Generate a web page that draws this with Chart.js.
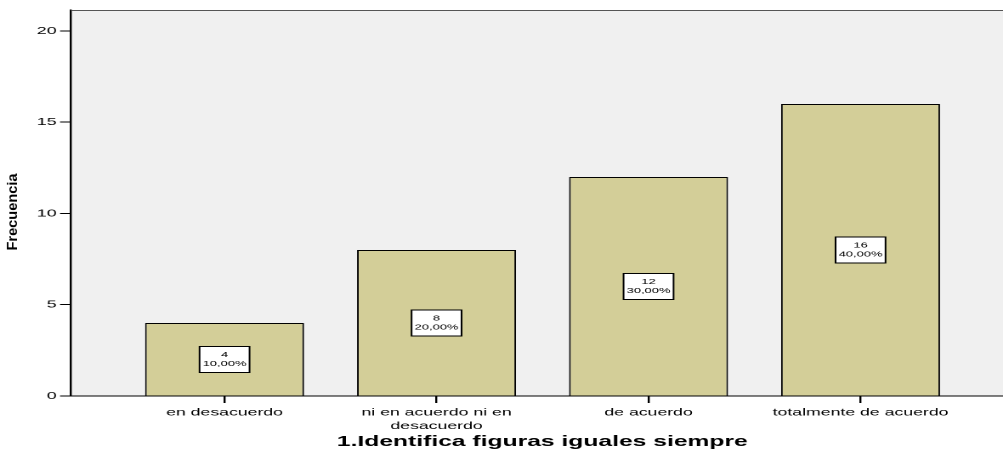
<!DOCTYPE html>
<html>
<head>
<meta charset="utf-8">
<script src="https://cdn.jsdelivr.net/npm/chart.js@4.4.1/dist/chart.umd.min.js"></script>
<style>
  html, body { margin: 0; padding: 0; background: #fff; overflow: hidden; }
  /* the original output is stretched sideways, so draw narrow and widen it */
  #wrap { position: absolute; left: 0; top: 0; width: 590px; height: 453px;
          transform: scaleX(1.7); transform-origin: 0 0; }
</style>
</head>
<body>
<div id="wrap"><canvas id="freqChart"></canvas></div>
<script>
// Chart data
const categories = ['en desacuerdo', ['ni en acuerdo ni en', 'desacuerdo'], 'de acuerdo', 'totalmente de acuerdo'];
const counts = [4, 8, 12, 16];
const percents = ['10,00%', '20,00%', '30,00%', '40,00%'];
const yTicks = [0, 5, 10, 15, 20];
const xPositions = [0, 1, 2, 3];

const FONT = '"Liberation Sans", Arial, sans-serif';

// Plot background, top frame line and axis titles
const framePlugin = {
  id: 'frame',
  beforeDraw(chart) {
    const { ctx, chartArea: { left, right, top, bottom } } = chart;
    ctx.save();
    ctx.fillStyle = '#f0f0f0';
    ctx.fillRect(left, top, right - left, bottom - top);
    ctx.restore();
  },
  afterDraw(chart) {
    const { ctx, chartArea: { left, right, top } } = chart;
    ctx.save();
    ctx.strokeStyle = '#555';
    ctx.lineWidth = 1;
    ctx.beginPath();
    ctx.moveTo(left, top + 0.5);
    ctx.lineTo(right, top + 0.5);
    ctx.stroke();

    // x title
    ctx.fillStyle = '#000';
    ctx.font = 'bold 14.5px ' + FONT;
    ctx.textAlign = 'center';
    ctx.textBaseline = 'alphabetic';
    ctx.fillText('1.Identifica figuras iguales siempre', 319, 446);

    // y title (narrow, rotated)
    ctx.translate(7.5, 212);
    ctx.scale(0.56, 1);
    ctx.rotate(-Math.PI / 2);
    ctx.font = 'bold 14.6px ' + FONT;
    ctx.textBaseline = 'middle';
    ctx.fillText('Frecuencia', 0, 0);
    ctx.restore();
  }
};

// White boxes with count and percentage in the middle of each bar
const boxLabels = {
  id: 'boxLabels',
  afterDatasetsDraw(chart) {
    const { ctx } = chart;
    const yScale = chart.scales.y;
    const w = 29.4, h = 26;
    ctx.save();
    chart.getDatasetMeta(0).data.forEach((bar, i) => {
      const cy = yScale.getPixelForValue(counts[i] / 2);
      ctx.fillStyle = '#fff';
      ctx.fillRect(bar.x - w / 2, cy - h / 2, w, h);
      ctx.strokeStyle = '#000';
      ctx.lineWidth = 1;
      ctx.strokeRect(bar.x - w / 2, cy - h / 2, w, h);
      ctx.fillStyle = '#000';
      ctx.font = '7.6px ' + FONT;
      ctx.textAlign = 'center';
      ctx.textBaseline = 'middle';
      ctx.fillText(String(counts[i]), bar.x, cy - 4.6);
      ctx.fillText(percents[i], bar.x, cy + 4.6);
    });
    ctx.restore();
  }
};

new Chart(document.getElementById('freqChart'), {
  type: 'bar',
  data: {
    datasets: [{
      label: 'Frecuencia',
      data: counts.map((c, i) => ({ x: xPositions[i], y: c })),
      backgroundColor: '#d3ce98',
      borderColor: '#000',
      borderWidth: 1,
      barPercentage: 0.75,
      categoryPercentage: 1
    }]
  },
  plugins: [framePlugin, boxLabels],
  options: {
    responsive: true,
    maintainAspectRatio: false,
    devicePixelRatio: 2,
    animation: false,
    layout: { padding: { top: 10, right: 0, left: 0, bottom: 0 } },
    plugins: {
      legend: { display: false },
      tooltip: { enabled: false }
    },
    scales: {
      x: {
        type: 'linear',
        offset: false,
        min: -0.724,
        max: 3.672,
        afterBuildTicks: (scale) => { scale.ticks = xPositions.map(v => ({ value: v })); },
        afterFit: (scale) => { scale.height = 57; },
        grid: { display: true, offset: false, drawOnChartArea: false, drawTicks: true, tickLength: 7, color: '#000', lineWidth: 1.2 },
        border: { display: true, color: '#000', width: 1 },
        ticks: {
          autoSkip: false,
          maxRotation: 0,
          padding: 3,
          color: '#000',
          font: { family: FONT, size: 10.4, lineHeight: 1.3 },
          callback: (value) => categories[value]
        }
      },
      y: {
        min: 0,
        max: 21.15,
        afterBuildTicks: (scale) => { scale.ticks = yTicks.map(v => ({ value: v })); },
        afterFit: (scale) => { scale.width = 41.8; },
        grid: { display: true, drawOnChartArea: false, drawTicks: true, tickLength: 6.5, color: '#000', lineWidth: 1 },
        border: { display: true, color: '#000', width: 1.2 },
        ticks: {
          padding: 2,
          color: '#000',
          font: { family: FONT, size: 10.5 }
        }
      }
    }
  }
});
</script>
</body>
</html>
